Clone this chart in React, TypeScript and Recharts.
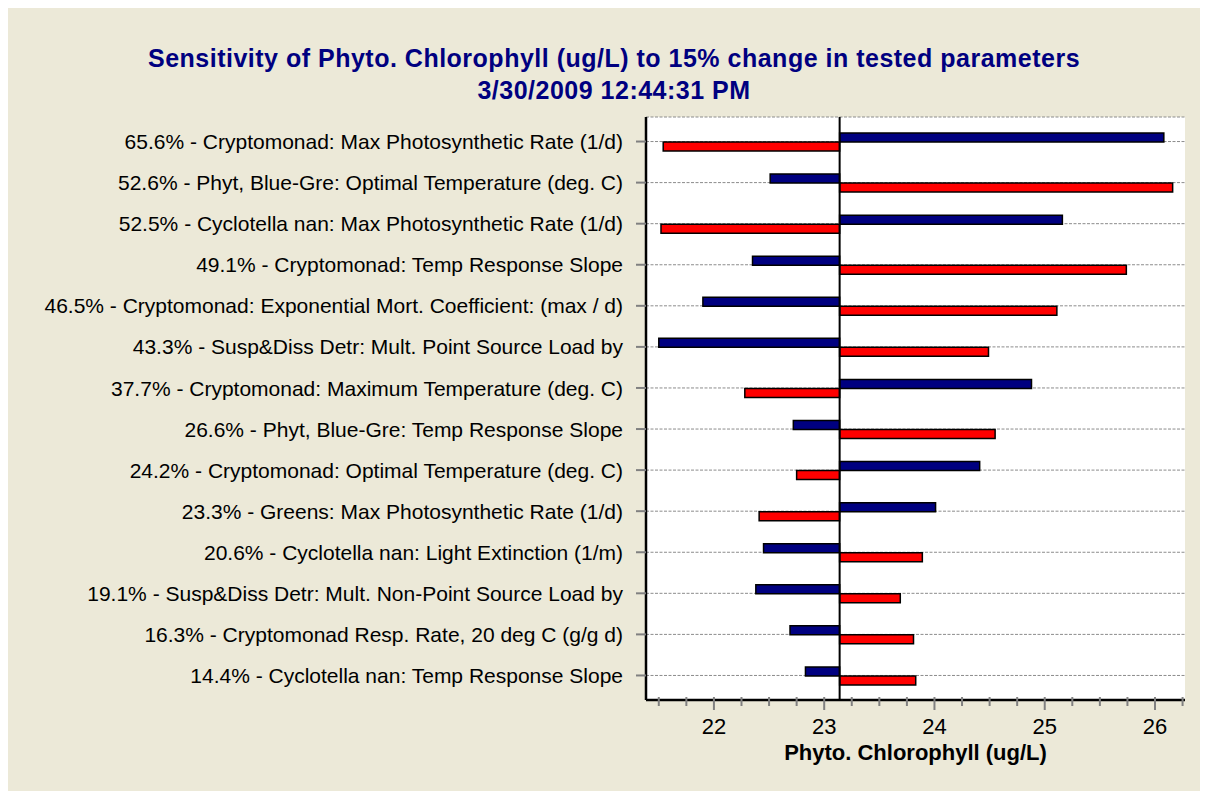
import {
  BarChart,
  Bar,
  XAxis,
  YAxis,
  CartesianGrid,
  ReferenceLine,
  Label,
} from 'recharts';

const categories = [
  '65.6% - Cryptomonad: Max Photosynthetic Rate (1/d)',
  '52.6% - Phyt, Blue-Gre: Optimal Temperature (deg. C)',
  '52.5% - Cyclotella nan: Max Photosynthetic Rate (1/d)',
  '49.1% - Cryptomonad: Temp Response Slope',
  '46.5% - Cryptomonad: Exponential Mort. Coefficient: (max / d)',
  '43.3% - Susp&Diss Detr: Mult. Point Source Load by',
  '37.7% - Cryptomonad: Maximum Temperature (deg. C)',
  '26.6% - Phyt, Blue-Gre: Temp Response Slope',
  '24.2% - Cryptomonad: Optimal Temperature (deg. C)',
  '23.3% - Greens: Max Photosynthetic Rate (1/d)',
  '20.6% - Cyclotella nan: Light Extinction (1/m)',
  '19.1% - Susp&Diss Detr: Mult. Non-Point Source Load by',
  '16.3% - Cryptomonad Resp. Rate, 20 deg C (g/g d)',
  '14.4% - Cyclotella nan: Temp Response Slope',
];

// blue = upper bar of each pair, red = lower bar
const blueValues = [26.08, 22.51, 25.16, 22.35, 21.9, 21.5, 24.88, 22.72, 24.41, 24.01, 22.45, 22.38, 22.69, 22.83];
const redValues = [21.54, 26.16, 21.52, 25.74, 25.11, 24.49, 22.28, 24.55, 22.75, 22.41, 23.89, 23.69, 23.81, 23.83];

const baseline = 23.14;
const xDomain = [21.384, 26.272];
const xTicks = [21.5, 21.75, 22, 22.25, 22.5, 22.75, 23, 23.25, 23.5, 23.75, 24, 24.25, 24.5, 24.75, 25, 25.25, 25.5, 25.75, 26, 26.25];

const FONT = 'Arial, "Liberation Sans", sans-serif';

const span = (v: number): [number, number] => [Math.min(baseline, v), Math.max(baseline, v)];

const data = categories.map((name, i) => ({
  name,
  blue: span(blueValues[i]),
  red: span(redValues[i]),
}));

function XTick({ x, y, payload }: any) {
  const major = Number.isInteger(payload.value);
  return (
    <g>
      <line x1={x} x2={x} y1={y - 3} y2={y + (major ? 10 : 6)} stroke="#808080" strokeWidth={2} />
      {major && (
        <text x={x} y={y + 34} textAnchor="middle" fontSize={22} fontFamily={FONT} fill="#000">
          {payload.value}
        </text>
      )}
    </g>
  );
}

function YTick({ x, y, payload }: any) {
  return (
    <text x={x} y={y} dy="0.36em" textAnchor="end" fontSize={21} fontFamily={FONT} fill="#000">
      {payload.value}
    </text>
  );
}

export default function App() {
  return (
    <div style={{ position: 'relative', width: 1200, height: 783, background: '#ECE9D8' }}>
      <div
        style={{
          position: 'absolute',
          left: 606,
          top: 34,
          transform: 'translateX(-50%)',
          whiteSpace: 'nowrap',
          textAlign: 'center',
          color: '#000080',
          fontFamily: FONT,
          fontWeight: 'bold',
          fontSize: 25,
          lineHeight: '32px',
          letterSpacing: 0.5,
        }}
      >
        <div>Sensitivity of Phyto. Chlorophyll (ug/L) to 15% change in tested parameters</div>
        <div>3/30/2009 12:44:31 PM</div>
      </div>
      <BarChart
        layout="vertical"
        width={1200}
        height={783}
        data={data}
        margin={{ top: 109, right: 23, bottom: 0, left: 0 }}
        barSize={9}
        barGap={0}
        style={{ position: 'absolute', left: 0, top: 0 }}
      >
        <CartesianGrid horizontal vertical={false} fill="#fff" stroke="#8c8c8c" strokeDasharray="3 1.5" />
        <XAxis
          type="number"
          domain={xDomain}
          allowDataOverflow
          ticks={xTicks}
          interval={0}
          height={91}
          tick={<XTick />}
          tickLine={false}
          tickSize={0}
          tickMargin={0}
          axisLine={{ stroke: '#000', strokeWidth: 2.5 }}
        >
          <Label
            value="Phyto. Chlorophyll (ug/L)"
            position="insideBottom"
            offset={31}
            style={{ fontFamily: FONT, fontSize: 22, fontWeight: 'bold', fill: '#000' }}
          />
        </XAxis>
        <XAxis
          xAxisId="top"
          orientation="top"
          type="number"
          domain={xDomain}
          allowDataOverflow
          height={0}
          tick={false}
          tickLine={false}
          axisLine={{ stroke: '#000', strokeWidth: 2.5 }}
        />
        <YAxis
          type="category"
          dataKey="name"
          width={638}
          interval={0}
          padding={{ top: 4, bottom: 4 }}
          tick={<YTick />}
          tickSize={10}
          tickMargin={13}
          tickLine={{ stroke: '#808080', strokeWidth: 2 }}
          axisLine={{ stroke: '#000', strokeWidth: 2.5 }}
        />
        <YAxis
          yAxisId="right"
          orientation="right"
          type="category"
          dataKey="name"
          width={0}
          padding={{ top: 4, bottom: 4 }}
          tick={false}
          tickLine={false}
          axisLine={{ stroke: '#000', strokeWidth: 2.5 }}
        />
        <Bar dataKey="blue" fill="#000080" stroke="#000" strokeWidth={1.5} isAnimationActive={false} />
        <Bar dataKey="red" fill="#FF0000" stroke="#000" strokeWidth={1.5} isAnimationActive={false} />
        <ReferenceLine x={baseline} stroke="#000" strokeWidth={2} />
      </BarChart>
    </div>
  );
}
